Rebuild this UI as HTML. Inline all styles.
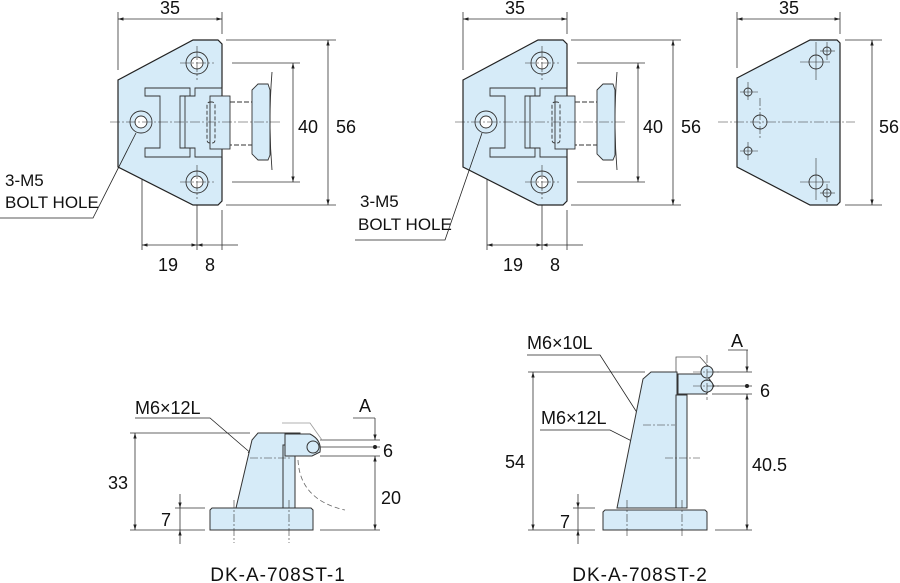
<!DOCTYPE html>
<html><head><meta charset="utf-8"><style>
html,body{margin:0;padding:0;background:#fff;}
svg{display:block;font-family:"Liberation Sans","DejaVu Sans",sans-serif;}
</style></head><body>
<svg width="900" height="583" viewBox="0 0 900 583" xmlns="http://www.w3.org/2000/svg">
<defs>
<marker id="ar" viewBox="0 0 10 10" refX="10" refY="5" markerWidth="7" markerHeight="7" orient="auto-start-reverse"><path d="M0,2 L10,5 L0,8 z" fill="#222"/></marker>
<g id="plate">
  <g stroke="#333" stroke-width="0.8" fill="none">
    <line x1="118" y1="12" x2="118" y2="70"/>
    <line x1="222" y1="12" x2="222" y2="34"/>
    <line x1="118" y1="19" x2="222" y2="19" marker-start="url(#ar)" marker-end="url(#ar)"/>
    <line x1="226" y1="40" x2="336" y2="40"/>
    <line x1="226" y1="205" x2="336" y2="205"/>
    <line x1="328" y1="40" x2="328" y2="205" marker-start="url(#ar)" marker-end="url(#ar)"/>
    <line x1="232" y1="63" x2="300" y2="63"/>
    <line x1="232" y1="182" x2="300" y2="182"/>
    <line x1="293" y1="63" x2="293" y2="182" marker-start="url(#ar)" marker-end="url(#ar)"/>
    <line x1="142" y1="135" x2="142" y2="250"/>
    <line x1="197" y1="200" x2="197" y2="250"/>
    <line x1="222" y1="210" x2="222" y2="250"/>
    <line x1="142" y1="245" x2="197" y2="245" marker-start="url(#ar)" marker-end="url(#ar)"/>
    <line x1="197" y1="245" x2="222" y2="245" marker-start="url(#ar)"/>
    <line x1="222" y1="245" x2="238" y2="245"/>
  </g>
  <path d="M118,80 L193,40 L218,40 L222,44 L222,201 L218,205 L193,205 L118,167 Z" fill="#d6ebf8" stroke="#222" stroke-width="1.2"/>
  <g fill="#d6ebf8" stroke="#333" stroke-width="0.9">
    <path d="M145,88 L190,88 L190,96 L180,96 L180,148 L190,148 L190,157 L145,157 L145,148 L160,148 L160,96 L145,96 Z"/>
    <path d="M195,88 L222,88 L222,157 L195,157 L195,148 L185,148 L185,96 L195,96 Z" fill="none"/>
    <rect x="210" y="96" width="20" height="53"/>
    <rect x="207" y="102" width="8" height="41" rx="3" fill="none" stroke-dasharray="4,2"/>
    <path d="M230,102 L255,102 L255,145 L230,145" fill="none" stroke-dasharray="5,2"/>
    <path d="M252,90 L258,84 L268,84 L270,90 L270,155 L268,160 L258,160 L252,154 Z"/>
    <path d="M272,72 Q268,122 272,170" fill="none"/>
  </g>
  <g stroke="#333" stroke-width="0.9">
    <circle cx="197" cy="63" r="11" fill="#d6ebf8"/><circle cx="197" cy="63" r="6" fill="#fff"/>
    <circle cx="197" cy="182" r="11" fill="#d6ebf8"/><circle cx="197" cy="182" r="6" fill="#fff"/>
    <circle cx="141" cy="122" r="11" fill="#d6ebf8"/><circle cx="141" cy="122" r="6" fill="#fff"/>
  </g>
  <g stroke="#333" stroke-width="0.6" stroke-dasharray="10,2,2,2" fill="none">
    <line x1="110" y1="122" x2="282" y2="122"/>
    <line x1="180" y1="63" x2="214" y2="63"/>
    <line x1="197" y1="46" x2="197" y2="80"/>
    <line x1="180" y1="182" x2="214" y2="182"/>
    <line x1="197" y1="165" x2="197" y2="199"/>
  </g>
  <g font-size="18" fill="#111">
    <text x="170" y="14" text-anchor="middle">35</text>
    <text x="308" y="133" text-anchor="middle">40</text>
    <text x="346" y="133" text-anchor="middle">56</text>
    <text x="168" y="271" text-anchor="middle">19</text>
    <text x="210" y="271" text-anchor="middle">8</text>
  </g>
</g>
</defs>

<use href="#plate"/>
<g font-size="17" fill="#111"><text x="5" y="186">3-M5</text><text x="5" y="208">BOLT HOLE</text></g>
<polyline points="0,218 93,218 136,133" fill="none" stroke="#222" stroke-width="0.8"/>

<use href="#plate" transform="translate(345,0)"/>
<g font-size="17" fill="#111"><text x="360" y="207">3-M5</text><text x="358" y="230">BOLT HOLE</text></g>
<polyline points="355,240 445,240 482,133" fill="none" stroke="#222" stroke-width="0.8"/>

<g stroke="#333" stroke-width="0.8" fill="none">
  <line x1="737" y1="12" x2="737" y2="68"/>
  <line x1="840" y1="12" x2="840" y2="34"/>
  <line x1="737" y1="19" x2="840" y2="19" marker-start="url(#ar)" marker-end="url(#ar)"/>
  <line x1="845" y1="40" x2="882" y2="40"/>
  <line x1="845" y1="205" x2="882" y2="205"/>
  <line x1="872" y1="40" x2="872" y2="205" marker-start="url(#ar)" marker-end="url(#ar)"/>
</g>
<path d="M737,78 L810,40 L837,40 L840,43 L840,202 L837,205 L810,205 L737,167 Z" fill="#d6ebf8" stroke="#222" stroke-width="1.2"/>
<g stroke="#333" stroke-width="0.9" fill="none">
  <circle cx="816" cy="62" r="7"/><circle cx="827" cy="51" r="4"/>
  <circle cx="816" cy="182" r="7"/><circle cx="827" cy="193" r="4"/>
  <circle cx="748" cy="92" r="4"/><circle cx="748" cy="151" r="4"/>
  <circle cx="760" cy="122" r="7"/>
  <g stroke-width="0.6">
  <line x1="800" y1="62" x2="830" y2="62"/><line x1="816" y1="42" x2="816" y2="80"/>
  <line x1="820" y1="51" x2="835" y2="51"/><line x1="827" y1="42" x2="827" y2="60"/>
  <line x1="800" y1="182" x2="830" y2="182"/><line x1="816" y1="158" x2="816" y2="200"/>
  <line x1="820" y1="193" x2="835" y2="193"/><line x1="827" y1="184" x2="827" y2="202"/>
  <line x1="740" y1="92" x2="758" y2="92"/><line x1="748" y1="82" x2="748" y2="100"/>
  <line x1="740" y1="151" x2="758" y2="151"/><line x1="748" y1="142" x2="748" y2="160"/>
  <line x1="760" y1="98" x2="760" y2="140" stroke-dasharray="8,2,2,2"/>
  <line x1="718" y1="122" x2="855" y2="122" stroke-dasharray="10,2,2,2"/>
  </g>
</g>
<g font-size="18" fill="#111">
  <text x="789" y="14" text-anchor="middle">35</text>
  <text x="889" y="133" text-anchor="middle">56</text>
</g>

<g stroke="#333" stroke-width="0.8" fill="none">
  <line x1="130" y1="433" x2="250" y2="433"/>
  <line x1="130" y1="530" x2="205" y2="530"/>
  <line x1="135" y1="433" x2="135" y2="530" marker-start="url(#ar)" marker-end="url(#ar)"/>
  <line x1="175" y1="508" x2="205" y2="508"/>
  <line x1="180" y1="494" x2="180" y2="508" marker-end="url(#ar)"/>
  <line x1="180" y1="544" x2="180" y2="530" marker-end="url(#ar)"/>
  <line x1="180" y1="508" x2="180" y2="530"/>
  <line x1="353" y1="418" x2="375" y2="418"/>
  <line x1="375" y1="418" x2="375" y2="440" marker-end="url(#ar)"/>
  <line x1="320" y1="440" x2="380" y2="440"/>
  <line x1="320" y1="456" x2="380" y2="456"/>
  <line x1="300" y1="447" x2="380" y2="447"/>
  <line x1="375" y1="456" x2="375" y2="530" marker-start="url(#ar)" marker-end="url(#ar)"/>
  <line x1="320" y1="530" x2="380" y2="530"/>
  <path d="M298,460 Q300,500 345,510" stroke-dasharray="5,3" stroke="#666"/>
  <path d="M282,423 L310,423 L322,440" stroke="#999"/>
  <polyline points="135,418 210,418 253,455" stroke="#222" marker-end="url(#ar)"/>
</g>
<circle cx="375" cy="447" r="2" fill="#222"/>
<g stroke="#333" stroke-width="1" fill="#d6ebf8">
  <path d="M210,510 L212,508 L311,508 L313,510 L313,530 L210,530 Z"/>
  <path d="M236,508 L252,440 L258,433 L300,433 L300,445 L295,445 L295,508 Z"/>
  <rect x="283" y="445" width="12" height="63"/>
  <path d="M285,434 L310,434 Q322,440 320,452 L312,456 L285,456 Z"/>
  <circle cx="313" cy="447" r="6"/>
</g>
<g stroke="#333" stroke-width="0.6" stroke-dasharray="8,2,2,2">
  <line x1="250" y1="458" x2="290" y2="458"/>
  <line x1="234" y1="500" x2="234" y2="543"/>
  <line x1="289" y1="500" x2="289" y2="543"/>
</g>
<g font-size="18" fill="#111">
  <text x="135" y="414">M6×12L</text>
  <text x="118" y="489" text-anchor="middle">33</text>
  <text x="166" y="526" text-anchor="middle">7</text>
  <text x="365" y="412" text-anchor="middle">A</text>
  <text x="383" y="457">6</text>
  <text x="381" y="504">20</text>
  <text x="278" y="581" text-anchor="middle" font-size="19" letter-spacing="1">DK-A-708ST-1</text>
</g>

<g stroke="#333" stroke-width="0.8" fill="none">
  <line x1="528" y1="372" x2="645" y2="372"/>
  <line x1="528" y1="530" x2="595" y2="530"/>
  <line x1="533" y1="372" x2="533" y2="530" marker-start="url(#ar)" marker-end="url(#ar)"/>
  <line x1="573" y1="508" x2="595" y2="508"/>
  <line x1="578" y1="494" x2="578" y2="508" marker-end="url(#ar)"/>
  <line x1="578" y1="544" x2="578" y2="530" marker-end="url(#ar)"/>
  <line x1="578" y1="508" x2="578" y2="530"/>
  <line x1="728" y1="350" x2="748" y2="350"/>
  <line x1="747" y1="350" x2="747" y2="372" marker-end="url(#ar)"/>
  <line x1="712" y1="372" x2="752" y2="372"/>
  <line x1="712" y1="386" x2="752" y2="386"/>
  <line x1="712" y1="394" x2="752" y2="394"/>
  <line x1="747" y1="394" x2="747" y2="530" marker-start="url(#ar)" marker-end="url(#ar)"/>
  <line x1="715" y1="530" x2="752" y2="530"/>
  <path d="M676,397 L676,357 L700,357 L708,366" stroke="#555"/>
  <polyline points="527,355 600,355 645,425" stroke="#222" marker-end="url(#ar)"/>
  <polyline points="540,430 610,430 665,458" stroke="#222" marker-end="url(#ar)"/>
</g>
<circle cx="747" cy="386" r="2" fill="#222"/>
<g stroke="#333" stroke-width="1" fill="#d6ebf8">
  <path d="M603,512 L605,510 L705,510 L707,512 L707,530 L603,530 Z"/>
  <path d="M617,508 L643,379 L651,372 L677,372 L677,508 Z"/>
  <rect x="676" y="395" width="11" height="113"/>
  <path d="M678,374 L706,374 L714,386 L706,394 L678,394 Z"/>
  <circle cx="707" cy="372" r="6"/>
  <circle cx="707" cy="386" r="6"/>
</g>
<g stroke="#333" stroke-width="0.6" stroke-dasharray="8,2,2,2">
  <line x1="643" y1="425" x2="675" y2="425"/>
  <line x1="665" y1="458" x2="700" y2="458"/>
  <line x1="627" y1="500" x2="627" y2="537"/>
  <line x1="682" y1="500" x2="682" y2="537"/>
  <line x1="707" y1="355" x2="707" y2="400"/>
  <line x1="693" y1="372" x2="720" y2="372"/>
  <line x1="693" y1="386" x2="720" y2="386"/>
</g>
<g font-size="18" fill="#111">
  <text x="527" y="349">M6×10L</text>
  <text x="541" y="424">M6×12L</text>
  <text x="515" y="468" text-anchor="middle">54</text>
  <text x="565" y="528" text-anchor="middle">7</text>
  <text x="737" y="347" text-anchor="middle">A</text>
  <text x="760" y="397">6</text>
  <text x="752" y="471">40.5</text>
  <text x="640" y="581" text-anchor="middle" font-size="19" letter-spacing="1">DK-A-708ST-2</text>
</g>
</svg>
</body></html>
